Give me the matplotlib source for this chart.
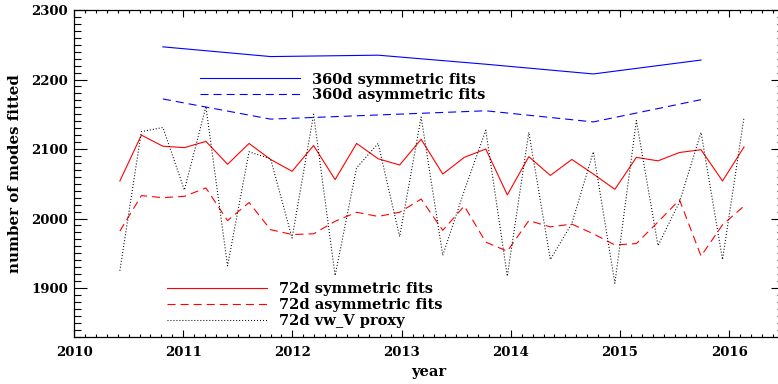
import matplotlib
matplotlib.use("Agg")
import matplotlib.pyplot as plt
from matplotlib.ticker import MultipleLocator

# 72-day fits: epoch midpoints (year) and number of modes fitted
t72 = [2010.420, 2010.617, 2010.814, 2011.011, 2011.208, 2011.406, 2011.603,
       2011.800, 2011.997, 2012.194, 2012.391, 2012.588, 2012.785, 2012.982,
       2013.179, 2013.377, 2013.574, 2013.771, 2013.968, 2014.165, 2014.362,
       2014.559, 2014.756, 2014.953, 2015.150, 2015.348, 2015.545, 2015.742,
       2015.939, 2016.136]
sym72 = [2054, 2120, 2104, 2102, 2111, 2078, 2108, 2085, 2068, 2105,
         2056, 2108, 2086, 2077, 2114, 2064, 2088, 2100, 2034, 2089,
         2062, 2085, 2064, 2042, 2088, 2083, 2095, 2099, 2054, 2103]
asym72 = [1982, 2033, 2030, 2032, 2044, 1997, 2023, 1984, 1977, 1978,
          1996, 2009, 2003, 2009, 2028, 1983, 2018, 1966, 1953, 1997,
          1988, 1992, 1978, 1962, 1964, 1995, 2027, 1946, 1991, 2018]
proxy72 = [1925, 2125, 2131, 2041, 2161, 1932, 2096, 2086, 1972, 2150,
           1918, 2073, 2108, 1974, 2146, 1947, 2040, 2127, 1917, 2124,
           1941, 1993, 2096, 1907, 2141, 1961, 2024, 2124, 1941, 2146]

# 360-day fits
t360 = [2010.814, 2011.800, 2012.785, 2013.771, 2014.756, 2015.742]
sym360 = [2247, 2233, 2235, 2222, 2208, 2228]
asym360 = [2172, 2143, 2149, 2155, 2139, 2171]

labels_360 = ["360d symmetric fits", "360d asymmetric fits"]
labels_72 = ["72d symmetric fits", "72d asymmetric fits", "72d vw_V proxy"]

plt.rcParams['font.family'] = ['DejaVu Serif']
plt.rcParams['font.weight'] = 'bold'
plt.rcParams['lines.scale_dashes'] = False

fig = plt.figure(figsize=(7.78, 3.84), dpi=100)
ax = fig.add_axes([74 / 778, 47.3 / 384, 709.8 / 778, 326.7 / 384])

dash = (0, (5.8, 3.6))
dot = (0, (0.7, 1.45))
lw = 0.8

h1, = ax.plot(t360, sym360, color='#0000ff', lw=lw)
h2, = ax.plot(t360, asym360, color='#0000ff', lw=lw, linestyle=dash)
h3, = ax.plot(t72, sym72, color='#ff0000', lw=lw)
h4, = ax.plot(t72, asym72, color='#ff0000', lw=lw, linestyle=dash)
h5, = ax.plot(t72, proxy72, color='black', lw=lw, linestyle=dot)

ax.set_xlim(2010, 2016.5)
ax.set_ylim(1830, 2300)

ax.xaxis.set_major_locator(MultipleLocator(1))
ax.xaxis.set_minor_locator(MultipleLocator(0.1))
ax.yaxis.set_major_locator(MultipleLocator(100))
ax.yaxis.set_minor_locator(MultipleLocator(10))
ax.xaxis.set_major_formatter(plt.FuncFormatter(lambda v, p: f"{v:.0f}"))
ax.yaxis.set_major_formatter(plt.FuncFormatter(lambda v, p: f"{v:.0f}"))

ax.tick_params(axis='both', which='both', direction='in', top=True, right=True,
               width=0.8, colors='black', labelsize=9.5)
ax.tick_params(axis='x', which='major', length=5.0, pad=6.8)
ax.tick_params(axis='x', which='minor', length=2.5)
ax.tick_params(axis='y', which='major', length=9.7, pad=4.3)
ax.tick_params(axis='y', which='minor', length=5.0)
for s in ax.spines.values():
    s.set_linewidth(0.9)

ax.set_xlabel("year", fontsize=10.5, fontweight='bold', labelpad=4)
ax.set_ylabel("number of modes fitted", fontsize=10.8, fontweight='bold', labelpad=7)

leg_kw = dict(frameon=False, fontsize=10.5, handlelength=6.85, handletextpad=0.82,
              labelspacing=0.12, borderpad=0, borderaxespad=0, loc='center left')
leg1 = ax.legend([h1, h2], labels_360, bbox_to_anchor=(0.1775, 0.763), **leg_kw)
ax.add_artist(leg1)
ax.legend([h3, h4, h5], labels_72, bbox_to_anchor=(0.1306, 0.097), **leg_kw)

fig.savefig("out.png", dpi=100)
